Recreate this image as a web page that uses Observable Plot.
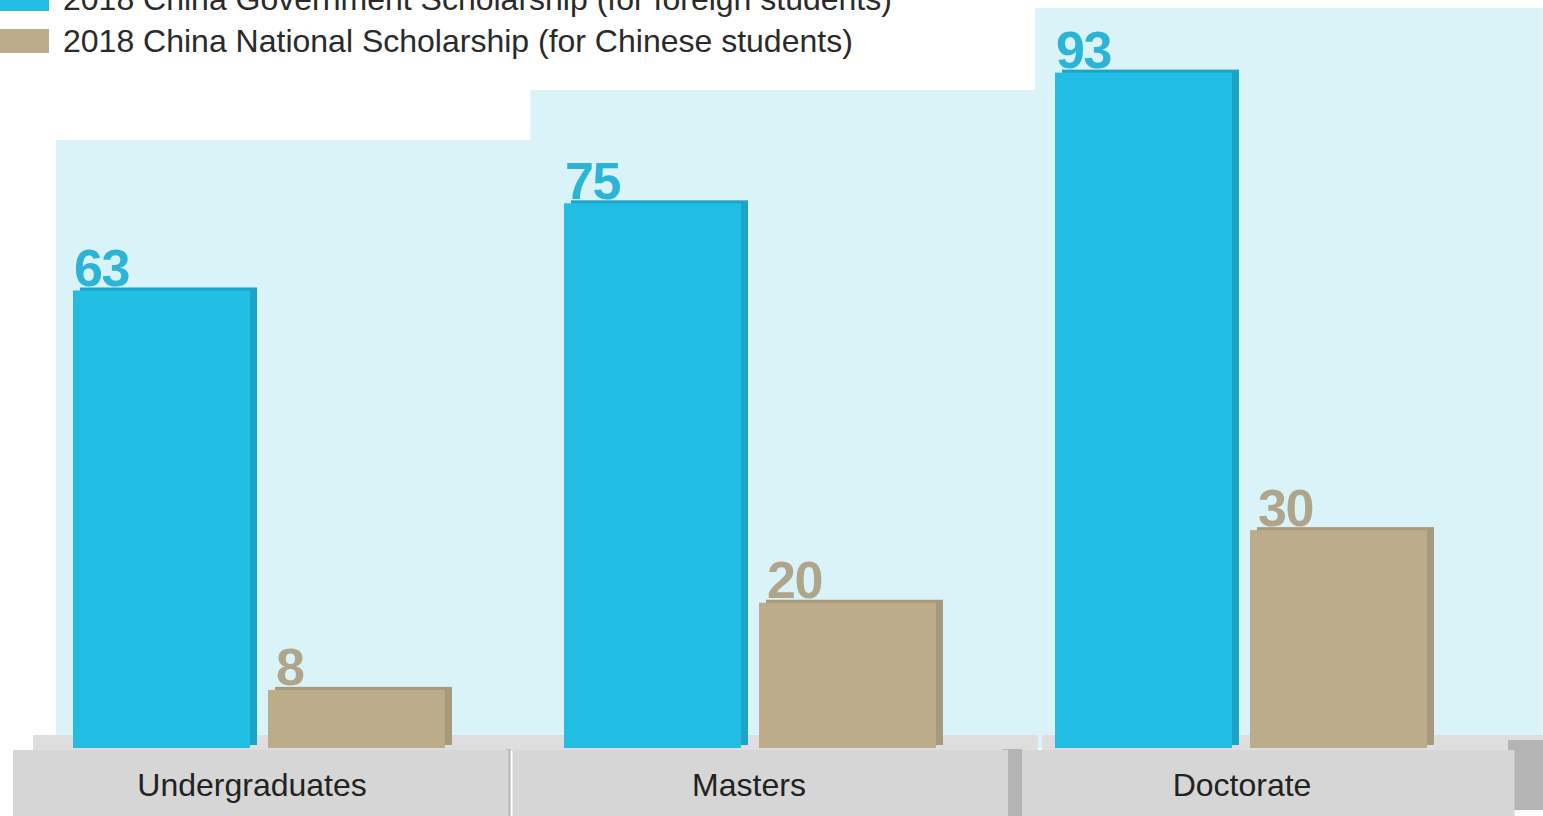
<!DOCTYPE html>
<html>
<head>
<meta charset="utf-8">
<script src="https://cdn.jsdelivr.net/npm/d3@7"></script>
<script src="https://cdn.jsdelivr.net/npm/@observablehq/plot@0.6"></script>
<style>
  html, body { margin: 0; padding: 0; background: #fff; overflow: hidden; }
  #wrap { position: relative; width: 1543px; height: 816px; overflow: hidden; }
  #chart { position: absolute; left: 0; top: 0; }
  #legend { position: absolute; left: 0; top: -13px; font-family: "Liberation Sans", Arial, sans-serif; font-size: 32px; color: #2a2a2a; }
  .row { display: flex; align-items: flex-start; height: 42px; }
  .sw { width: 49px; height: 24px; margin-right: 14px; flex: none; }
  .lab { line-height: 24px; white-space: nowrap; }
</style>
</head>
<body>
<div id="wrap"><div id="chart"></div><div id="legend"></div></div>
<script>
// ---- data ----
const categories = ["Undergraduates", "Masters", "Doctorate"];
const series = [
  "2018 China Government Scholarship (for foreign students)",
  "2018 China National Scholarship (for Chinese students)"
];
const governmentValues = [63, 75, 93];
const nationalValues = [8, 20, 30];

// ---- styles ----
const frontColors = ["#22bde2", "#bcac8a"];
const sideColors = ["#1ba4c7", "#a59a7c"];
const labelColors = ["#2bb4d6", "#aea58b"];

const rows = categories.flatMap((c, i) => [
  {category: c, series: series[0], value: governmentValues[i]},
  {category: c, series: series[1], value: nationalValues[i]}
]);

// decorative backdrop geometry (pixel insets per group)
const panelStyle = [
  {insetTop: 140, insetLeft: 25, insetRight: -18.5},
  {insetTop: 90, insetLeft: 8.5, insetRight: -32},
  {insetTop: 8, insetLeft: 22, insetRight: -38.5}
];
const platformStyle = [
  {insetLeft: -18, insetRight: 13.5},
  {insetLeft: -9.5, insetRight: 5},
  {insetLeft: 9, insetRight: -10.5}
];
const labelShift = [-25, -19, -17];

const marks = [];
categories.forEach((c, i) => {
  marks.push(Plot.rect([c], {fx: d => d, fill: "#d9f3f9", ...panelStyle[i], insetBottom: 0}));
});
categories.forEach((c, i) => {
  const p = platformStyle[i];
  marks.push(Plot.rect([c], {fx: d => d, fill: "#dedede", insetTop: 735, insetBottom: -3,
    insetLeft: p.insetLeft + 20, insetRight: p.insetRight - 30}));
});
marks.push(Plot.rect([categories[0]], {fx: d => d, fill: "#b4b4b4", insetTop: 749, insetBottom: -68, insetLeft: 475, insetRight: 11.5}));
marks.push(Plot.rect([categories[1]], {fx: d => d, fill: "#b4b4b4", insetTop: 749, insetBottom: -68, insetLeft: 480, insetRight: -9}));
marks.push(Plot.rect([categories[2]], {fx: d => d, fill: "#b4b4b4", insetTop: 740, insetBottom: -62, insetLeft: 495, insetRight: -39}));
categories.forEach((c, i) => {
  const p = platformStyle[i];
  marks.push(Plot.rect([c], {fx: d => d, fill: "#d6d6d6", insetTop: 750, insetBottom: -68, ...p}));
});

// bars: side/back then front
marks.push(Plot.barY(rows, {fx: "category", x: "series", y: "value",
  fill: d => sideColors[series.indexOf(d.series)], dx: 7, dy: -3}));
marks.push(Plot.barY(rows, {fx: "category", x: "series", y: "value",
  fill: d => frontColors[series.indexOf(d.series)]}));

// value labels
marks.push(Plot.text(rows.filter(d => d.series === series[0]), {fx: "category", x: "series", y: "value",
  text: d => String(d.value), textAnchor: "start", lineAnchor: "bottom", dx: -88, dy: -5,
  fill: labelColors[0], fontSize: 52, fontWeight: "bold"}));
marks.push(Plot.text(rows.filter(d => d.series === series[1]), {fx: "category", x: "series", y: "value",
  text: d => String(d.value), textAnchor: "start", lineAnchor: "bottom", dx: -81, dy: -5,
  fill: labelColors[1], fontSize: 52, fontWeight: "bold"}));

// category labels on the platforms
categories.forEach((c, i) => {
  marks.push(Plot.text([c], {fx: d => d, text: d => d, frameAnchor: "bottom", lineAnchor: "bottom",
    dy: 47, dx: labelShift[i], fontSize: 32, fill: "#222"}));
});

const chart = Plot.plot({
  width: 1543,
  height: 816,
  marginTop: 0,
  marginBottom: 68,
  marginLeft: 30,
  marginRight: 38.5,
  style: {fontFamily: "'Liberation Sans', Arial, sans-serif", background: "transparent", overflow: "visible"},
  fx: {domain: categories, padding: 0, axis: null},
  x: {domain: series, paddingInner: 0.0918, paddingOuter: 0, insetLeft: 41, insetRight: 76, axis: null},
  y: {domain: [0, 103], axis: null},
  color: {type: "identity"},
  marks
});
// tighten the value-label digits slightly
d3.select(chart).selectAll('g[font-size="52"] text').style("letter-spacing", "-1.5px");
document.getElementById("chart").appendChild(chart);

// legend
const legend = document.getElementById("legend");
series.forEach((s, i) => {
  const row = document.createElement("div");
  row.className = "row";
  const sw = document.createElement("div");
  sw.className = "sw";
  sw.style.background = frontColors[i];
  const lab = document.createElement("div");
  lab.className = "lab";
  lab.textContent = s;
  row.appendChild(sw);
  row.appendChild(lab);
  legend.appendChild(row);
});
</script>
</body>
</html>
